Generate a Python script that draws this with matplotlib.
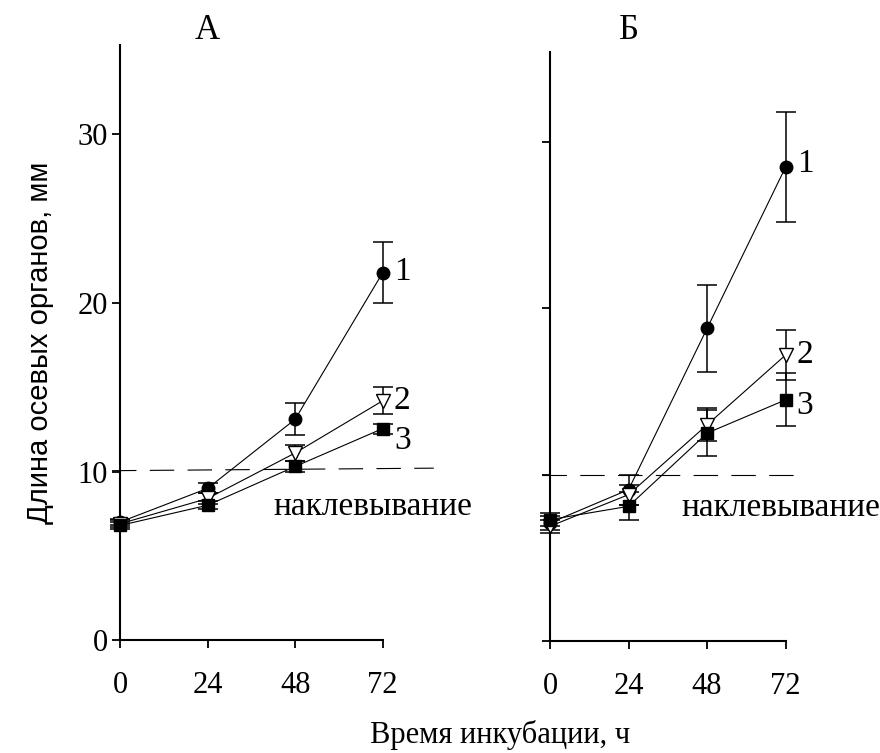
import numpy as np
import matplotlib
matplotlib.use("Agg")
import matplotlib.pyplot as plt
from matplotlib import transforms

### data
hours = [0, 24, 48, 72]

# panel A
a_s1 = [7.0, 9.0, 13.1, 21.8]
a_e1 = [0.2, 0.3, 0.95, 1.8]
a_s2 = [6.9, 8.4, 11.1, 14.2]
a_e2 = [0.2, 0.3, 0.45, 0.8]
a_s3 = [6.8, 8.0, 10.3, 12.55]
a_e3 = [0.2, 0.25, 0.3, 0.3]

# panel B
b_s1 = [7.1, 9.1, 18.8, 28.5]
b_e1 = [0.4, 0.9, 2.6, 3.3]
b_s2 = [6.9, 8.8, 13.0, 17.2]
b_e2 = [0.4, 0.6, 1.0, 1.5]
b_s3 = [7.3, 8.1, 12.5, 14.5]
b_e3 = [0.4, 0.85, 1.4, 1.6]

hatch_level_a = [10.05, 10.2]
hatch_level_b = [10.0, 10.0]
hatch_text = "наклевывание"
series_names = ["1", "2", "3"]
###---------------------------------------------------------------------

plt.rcParams["font.family"] = "Liberation Serif"
plt.rcParams["font.size"] = 22

fig = plt.figure(figsize=(8.8, 7.53), dpi=100)
ax_a = fig.add_axes([0.1364, 0.150, 0.2985, 0.790])
ax_b = fig.add_axes([0.625, 0.1487, 0.2678, 0.782])

styles = [dict(marker="o", ms=9, mfc="k", mec="k"),
          dict(marker="v", ms=10, mfc="white", mec="k"),
          dict(marker="s", ms=8, mfc="k", mec="k")]


def draw_panel(ax, series, errs, label_dy, line_x, line_y, text_xy, title, ytop):
    # dashed "hatching" level
    ax.plot(line_x, line_y, color="k", lw=0.8, dashes=(22, 12), clip_on=False, zorder=1)
    for s, e, st in zip(series, errs, styles):
        ax.errorbar(hours, s, yerr=e, color="k", lw=0.8, elinewidth=1.1,
                    capsize=7, capthick=1.1, clip_on=False, zorder=3, **st)
    for s, name, dy in zip(series, series_names, label_dy):
        ax.annotate(name, (hours[-1], s[-1]), xytext=(8, dy), textcoords="offset points",
                    ha="left", va="center", fontsize=24)
    ax.text(text_xy[0], text_xy[1], hatch_text, ha="left", va="center", fontsize=24)
    title_tr = transforms.blended_transform_factory(ax.transData, fig.transFigure)
    ax.text(24, 0.96, title, transform=title_tr, ha="center", va="center", fontsize=25)
    ax.set_xlim(0, 72)
    ax.set_ylim(0, ytop)
    ax.set_xticks(hours)
    ax.set_yticks([0, 10, 20, 30])
    for side in ["top", "right"]:
        ax.spines[side].set_visible(False)
    for side in ["left", "bottom"]:
        ax.spines[side].set_linewidth(1.5)
    ax.tick_params(axis="both", direction="out", length=6, width=1.3)
    ax.tick_params(axis="x", pad=16)
    ax.tick_params(axis="y", pad=3)


draw_panel(ax_a, [a_s1, a_s2, a_s3], [a_e1, a_e2, a_e3], [1, 0, -9],
           [-2.2, 86], hatch_level_a, (42, 7.9), "А", 35.3)
draw_panel(ax_b, [b_s1, b_s2, b_s3], [b_e1, b_e2, b_e3], [2, 0, -4],
           [-2.5, 77], hatch_level_b, (40.2, 8.0), "Б", 35.4)
ax_b.set_yticklabels([])

fig.text(0.045, 0.545, "Длина осевых органов, мм", rotation=90, ha="center",
         va="center", family="Liberation Sans", fontsize=21)
fig.text(0.568, 0.024, "Время инкубации, ч", ha="center", va="center", fontsize=22)

plt.savefig("out.png", dpi=100)
